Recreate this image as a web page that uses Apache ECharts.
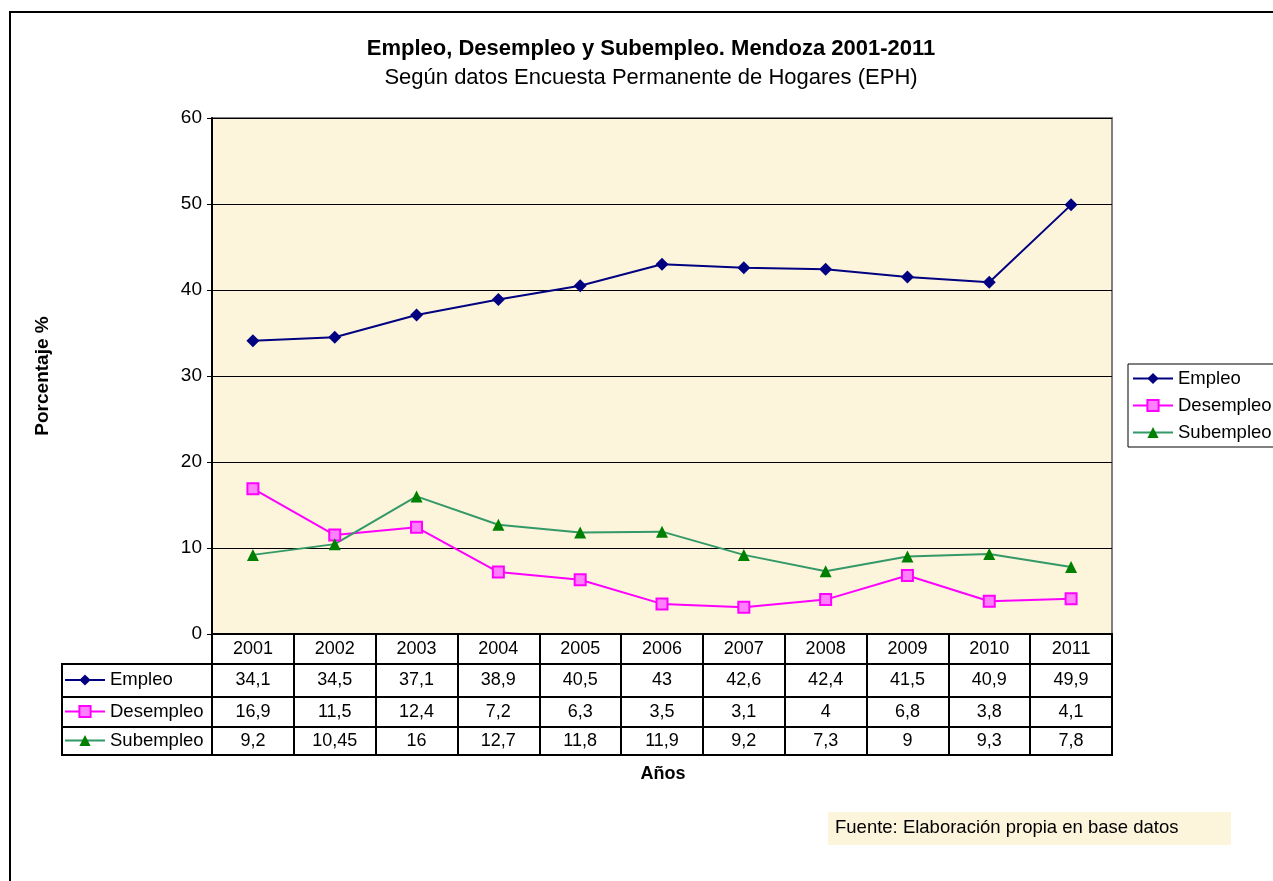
<!DOCTYPE html>
<html>
<head>
<meta charset="utf-8">
<script src="https://cdn.jsdelivr.net/npm/echarts@6/dist/echarts.min.js"></script>
<style>
  html, body { margin: 0; padding: 0; background: #fff; }
  #chart { width: 1273px; height: 881px; }
</style>
</head>
<body>
<div id="chart"></div>
<script>
const years = ['2001', '2002', '2003', '2004', '2005', '2006', '2007', '2008', '2009', '2010', '2011']
const empleo = [34.1, 34.5, 37.1, 38.9, 40.5, 43, 42.6, 42.4, 41.5, 40.9, 49.9]
const desempleo = [16.9, 11.5, 12.4, 7.2, 6.3, 3.5, 3.1, 4, 6.8, 3.8, 4.1]
const subempleo = [9.2, 10.45, 16, 12.7, 11.8, 11.9, 9.2, 7.3, 9, 9.3, 7.8]
const seriesNames = ['Empleo', 'Desempleo', 'Subempleo']
const yTicks = [0, 10, 20, 30, 40, 50, 60]

const font = 'Liberation Sans, Arial, sans-serif'
const plotLeft = 212
const plotRight = 1273 - 1112
// table rows: [top, height]
const rows = [[634, 30], [664, 33], [697, 30], [727, 28]]
const rowData = [null, empleo, desempleo, subempleo]

const fmt = v => String(v).replace('.', ',')

const chart = echarts.init(document.getElementById('chart'))

const grids = [{
  left: plotLeft, right: plotRight, top: 118, height: 516,
  show: true, backgroundColor: '#FDF4DC', borderColor: '#808080', borderWidth: 2
}]
const xAxes = [{
  type: 'category', gridIndex: 0, data: years, boundaryGap: true,
  axisLine: { lineStyle: { color: '#000', width: 2 } },
  axisTick: { show: false },
  axisLabel: { show: false }
}]
const yAxes = [{
  type: 'value', gridIndex: 0, min: 0, max: 60, interval: 10,
  name: 'Porcentaje %', nameLocation: 'middle', nameGap: 160,
  nameTextStyle: { fontFamily: font, fontSize: 19, fontWeight: 'bold', color: '#000' },
  axisLine: { show: true, lineStyle: { color: '#000', width: 2 } },
  axisTick: { show: true, length: 5, lineStyle: { color: '#000' } },
  axisLabel: {
    fontFamily: font, fontSize: 19, color: '#000', margin: 10,
    formatter: v => (yTicks.includes(v) ? String(v) : '')
  },
  splitLine: { lineStyle: { color: '#000', width: 1 } }
}]

rows.forEach(([top, h], i) => {
  grids.push({
    left: plotLeft, right: plotRight, top: top, height: h,
    show: true, borderColor: '#000', borderWidth: 2
  })
  xAxes.push({
    type: 'category', gridIndex: i + 1, data: years, position: 'top',
    axisLine: { show: false },
    axisTick: { show: false },
    splitLine: { show: true, interval: 0, lineStyle: { color: '#000', width: 2 } },
    axisLabel: {
      inside: true, interval: 0, margin: h / 2, verticalAlign: 'middle',
      fontFamily: font, fontSize: 18, color: '#000',
      formatter: (v, idx) => (rowData[i] ? fmt(rowData[i][idx]) : v)
    }
  })
  yAxes.push({ type: 'value', gridIndex: i + 1, show: false })
})

const legendText = { fontFamily: font, fontSize: 18.5, color: '#000' }
const legends = [{
  orient: 'vertical', left: 1128, top: 364, itemGap: 8,
  itemWidth: 40, itemHeight: 14,
  borderColor: '#000', borderWidth: 1, padding: [5, 6, 5, 4],
  data: seriesNames, textStyle: legendText
}]
rows.slice(1).forEach(([top, h], i) => {
  legends.push({
    orient: 'vertical', left: 64, top: top + h / 2 - 10, padding: 0,
    itemWidth: 40, itemHeight: 14, itemGap: 0,
    data: [seriesNames[i]], textStyle: legendText
  })
})

const graphic = [
  { type: 'rect', shape: { x: 10, y: 12, width: 1300, height: 900 }, style: { fill: 'none', stroke: '#000', lineWidth: 2 }, z: -1 },
  { type: 'rect', shape: { x: 62, y: 664, width: 150, height: 91 }, style: { fill: 'none', stroke: '#000', lineWidth: 2 } },
  { type: 'line', shape: { x1: 62, y1: 697, x2: 212, y2: 697 }, style: { stroke: '#000', lineWidth: 2 } },
  { type: 'line', shape: { x1: 62, y1: 727, x2: 212, y2: 727 }, style: { stroke: '#000', lineWidth: 2 } },
  { type: 'text', x: 663, y: 774, style: { text: 'Años', font: 'bold 18px ' + font, fill: '#000', align: 'center', verticalAlign: 'middle' } },
  { type: 'rect', shape: { x: 828, y: 812, width: 403, height: 33 }, style: { fill: '#FDF4DC' } },
  { type: 'text', x: 835, y: 828, style: { text: 'Fuente: Elaboración propia en base datos', font: '18.5px ' + font, fill: '#000', verticalAlign: 'middle' } }
]

chart.setOption({
  animation: false,
  backgroundColor: '#fff',
  title: {
    text: 'Empleo, Desempleo y Subempleo. Mendoza 2001-2011',
    subtext: 'Según datos Encuesta Permanente de Hogares (EPH)',
    left: 646, top: 33, textAlign: 'center', itemGap: 7,
    textStyle: { fontFamily: font, fontSize: 22, fontWeight: 'bold', color: '#000' },
    subtextStyle: { fontFamily: font, fontSize: 22, color: '#000' }
  },
  grid: grids,
  xAxis: xAxes,
  yAxis: yAxes,
  legend: legends,
  graphic: graphic,
  series: [
    {
      name: 'Empleo', type: 'line', data: empleo,
      symbol: 'diamond', symbolSize: 13,
      lineStyle: { color: '#000080', width: 2 },
      itemStyle: { color: '#000080' }
    },
    {
      name: 'Desempleo', type: 'line', data: desempleo,
      symbol: 'rect', symbolSize: 11,
      lineStyle: { color: '#FF00FF', width: 2 },
      itemStyle: { color: '#FF80FF', borderColor: '#FF00FF', borderWidth: 2 }
    },
    {
      name: 'Subempleo', type: 'line', data: subempleo,
      symbol: 'triangle', symbolSize: 12,
      lineStyle: { color: '#339966', width: 2 },
      itemStyle: { color: '#008000' }
    }
  ]
})
</script>
</body>
</html>
